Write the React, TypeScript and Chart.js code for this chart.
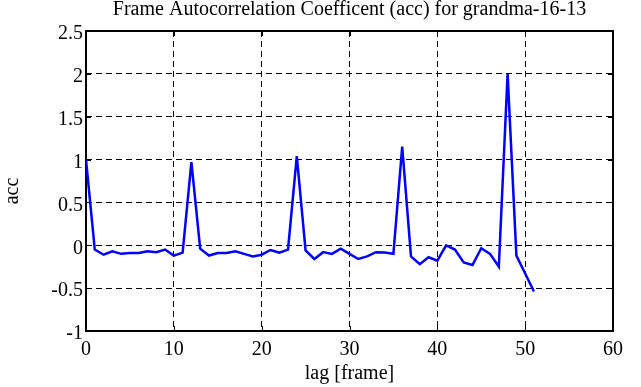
import { useEffect, useRef } from 'react';
import { Chart, registerables } from 'chart.js';

Chart.register(...registerables);

const titleText = 'Frame Autocorrelation Coefficent (acc) for grandma-16-13';
const xTitle = 'lag [frame]';
const yTitle = 'acc';

const lags = [
  0, 1, 2, 3, 4, 5, 6, 7, 8, 9, 10, 11, 12, 13, 14, 15, 16, 17, 18, 19, 20, 21, 22, 23, 24, 25,
  26, 27, 28, 29, 30, 31, 32, 33, 34, 35, 36, 37, 38, 39, 40, 41, 42, 43, 44, 45, 46, 47, 48, 49, 50, 51,
];

const accValues = [
  1.0, -0.05, -0.11, -0.07, -0.1, -0.09, -0.09, -0.07, -0.08, -0.05, -0.12, -0.085,
  0.97, -0.04, -0.12, -0.09, -0.09, -0.07, -0.1, -0.13, -0.11, -0.055, -0.085, -0.05,
  1.04, -0.06, -0.16, -0.08, -0.1, -0.04, -0.1, -0.16, -0.13, -0.08, -0.085, -0.1,
  1.15, -0.13, -0.22, -0.14, -0.18, 0.0, -0.05, -0.2, -0.23, -0.035, -0.1, -0.25,
  2.0, -0.12, -0.33, -0.54,
];

const xMin = 0;
const xMax = 60;
const xStep = 10;
const yMin = -1;
const yMax = 2.5;
const yStep = 0.5;

const FONT = "'Liberation Serif', 'DejaVu Serif', serif";

const framePlugin = {
  id: 'frameTicks',
  beforeDatasetsDraw(chart: any) {
    const { ctx, chartArea, scales } = chart;
    const { left, right, top, bottom } = chartArea;
    ctx.save();
    ctx.strokeStyle = '#000';
    ctx.lineWidth = 1;
    ctx.setLineDash([]);
    const tl = 5;
    const xs = scales.x;
    xs.ticks.forEach((t: any) => {
      const px = Math.round(xs.getPixelForValue(t.value)) + 0.5;
      ctx.beginPath();
      ctx.moveTo(px, bottom);
      ctx.lineTo(px, bottom - tl);
      ctx.moveTo(px, top);
      ctx.lineTo(px, top + tl);
      ctx.stroke();
    });
    const ys = scales.y;
    ys.ticks.forEach((t: any) => {
      const py = Math.round(ys.getPixelForValue(t.value)) + 0.5;
      ctx.beginPath();
      ctx.moveTo(left, py);
      ctx.lineTo(left + tl, py);
      ctx.moveTo(right, py);
      ctx.lineTo(right - tl, py);
      ctx.stroke();
    });
    ctx.lineWidth = 2;
    ctx.strokeRect(left, top, right - left, bottom - top);
    ctx.restore();
  },
  afterDraw(chart: any) {
    const { ctx, chartArea } = chart;
    ctx.save();
    ctx.fillStyle = '#000';
    ctx.font = `20px ${FONT}`;
    ctx.textAlign = 'center';
    ctx.textBaseline = 'alphabetic';
    ctx.fillText(titleText, (chartArea.left + chartArea.right) / 2, 15);
    ctx.restore();
  },
};

export default function App() {
  const canvasRef = useRef<HTMLCanvasElement | null>(null);

  useEffect(() => {
    document.body.style.margin = '0';
    const canvas = canvasRef.current;
    if (!canvas) return;
    Chart.defaults.font.family = FONT;
    Chart.defaults.color = '#000';

    const chart = new Chart(canvas, {
      type: 'line',
      data: {
        datasets: [
          {
            data: lags.map((l, i) => ({ x: l, y: accValues[i] })),
            borderColor: '#0000ff',
            backgroundColor: '#0000ff',
            borderWidth: 2.5,
            pointRadius: 0,
            tension: 0,
            fill: false,
          },
        ],
      },
      options: {
        responsive: false,
        animation: false,
        layout: { padding: { left: 0, right: 28, top: 31, bottom: 0 } },
        plugins: {
          legend: { display: false },
          tooltip: { enabled: false },
          title: { display: false },
        },
        scales: {
          x: {
            type: 'linear',
            min: xMin,
            max: xMax,
            afterFit: (scale: any) => {
              scale.height = 56;
            },
            ticks: {
              stepSize: xStep,
              color: '#000',
              font: { family: FONT, size: 20 },
              padding: 7,
              maxRotation: 0,
            },
            grid: { color: '#000', lineWidth: 1, drawTicks: false },
            border: { display: false, dash: [6, 4] },
            title: {
              display: true,
              text: xTitle,
              color: '#000',
              font: { family: FONT, size: 20, lineHeight: 1.2 },
              padding: { top: 0, bottom: 1 },
            },
          },
          y: {
            type: 'linear',
            min: yMin,
            max: yMax,
            afterFit: (scale: any) => {
              scale.width = 86;
            },
            ticks: {
              stepSize: yStep,
              color: '#000',
              font: { family: FONT, size: 20 },
              padding: 3,
              labelOffset: 3,
              callback: (v: any) => String(Number(v)),
            },
            grid: { color: '#000', lineWidth: 1, drawTicks: false },
            border: { display: false, dash: [6, 4] },
            title: {
              display: true,
              text: yTitle + '    ',
              color: '#000',
              font: { family: FONT, size: 20, lineHeight: 1.2 },
              padding: { top: 1, bottom: 0 },
            },
          },
        },
      } as any,
      plugins: [framePlugin],
    });
    return () => chart.destroy();
  }, []);

  return (
    <div style={{ position: 'fixed', left: 0, top: 0, width: 641, height: 387, background: '#fff' }}>
      <canvas ref={canvasRef} width={641} height={387} style={{ width: 641, height: 387 }} />
    </div>
  );
}
